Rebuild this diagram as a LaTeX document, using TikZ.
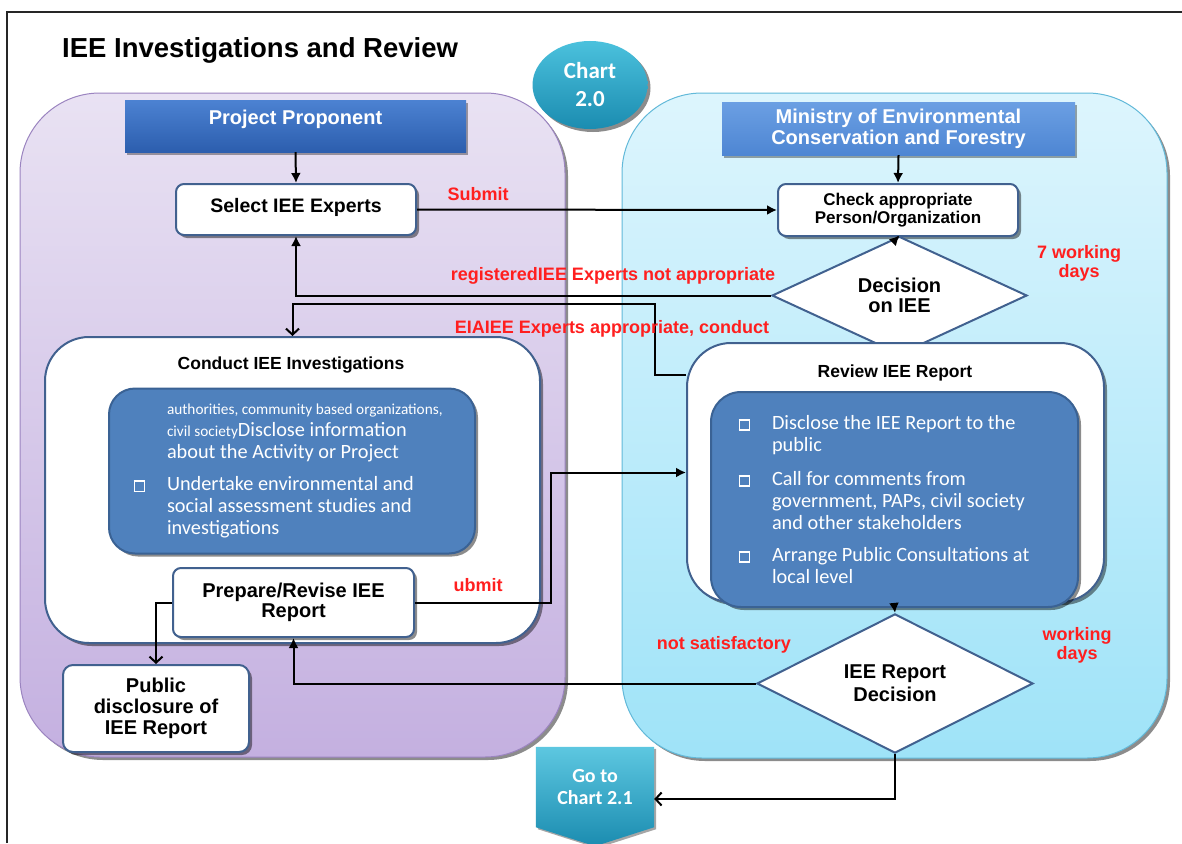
\documentclass[tikz,border=0pt]{standalone}
\usepackage{fontspec}
\setmainfont{Liberation Sans}
\newfontfamily\calib{Carlito}
\usetikzlibrary{shapes.geometric,arrows.meta,shadows}
\definecolor{ptop}{HTML}{E9E2F3}
\definecolor{pbot}{HTML}{C4B0E0}
\definecolor{pbdr}{HTML}{9B84C0}
\definecolor{btop}{HTML}{DDF5FD}
\definecolor{bbot}{HTML}{9FE3F8}
\definecolor{bbdr}{HTML}{62B9D9}
\definecolor{hdA}{HTML}{4C82D2}
\definecolor{hdB}{HTML}{2C5EAE}
\definecolor{mdA}{HTML}{6B9FE3}
\definecolor{mdB}{HTML}{4E86D3}
\definecolor{bdr}{HTML}{41618F}
\definecolor{inblue}{HTML}{4F81BD}
\definecolor{inbdr}{HTML}{3A6294}
\definecolor{redc}{HTML}{FF1F1F}
\definecolor{tealA}{HTML}{4BC1DD}
\definecolor{tealB}{HTML}{1B8CB0}
\newcommand\sqbul{\makebox[33pt][l]{\hspace*{-0.5pt}{\color{white}\setlength\fboxsep{0pt}\setlength\fboxrule{1.7pt}\fbox{\rule{0pt}{8.5pt}\rule{8.5pt}{0pt}}}}}
\newcommand\nobul{\makebox[33pt][l]{}}
\frenchspacing
\begin{document}
\begin{tikzpicture}[x=1pt,y=-1pt,
  every node/.style={inner sep=0pt},
  shd/.style={drop shadow={shadow xshift=3pt,shadow yshift=-3pt,opacity=.45,fill=black}},
  panelbox/.style={rectangle, rounded corners=80pt, minimum width=545pt, line width=1pt},
  header/.style={rectangle, text=white, font=\bfseries\fontsize{20}{21}\selectfont, align=center,
     drop shadow={shadow xshift=2pt,shadow yshift=-3pt,opacity=.35,fill=black}},
  wbox/.style={rectangle, rounded corners=8pt, draw=bdr, line width=2pt, fill=white, shd, align=center},
  contbox/.style={rectangle, rounded corners=44pt, draw=bdr, line width=2pt, fill=white, shd},
  inbox/.style={rectangle, rounded corners=26pt, draw=inbdr, line width=2pt, fill=inblue, shd,
     text=white, font=\calib\frenchspacing\fontsize{20.3}{22}\selectfont, align=flush left},
  dia/.style={diamond, draw=bdr, line width=2pt, fill=white, align=center,
     font=\bfseries\fontsize{20}{20}\selectfont},
  lbl/.style={text=redc, font=\bfseries\fontsize{18}{19}\selectfont, align=center},
  ttl/.style={font=\bfseries\fontsize{17.5}{19}\selectfont},
  arr/.style={draw=black, line width=2pt, -{Latex[length=10pt,width=10pt]}},
  oarr/.style={draw=black, line width=2pt, -{Straight Barb[length=6pt,width=13pt]}}
]
\useasboundingbox (0,0) rectangle (1182,843);
\fill[white] (0,0) rectangle (1182,843);
\draw[line width=1.6pt, black!85] (7,843) -- (7,12) -- (1182,12);

% title
\node[anchor=west, font=\bfseries\fontsize{27.5}{30}\selectfont] (title) at (62,50) {IEE Investigations and Review};

% panels
\node[panelbox, minimum height=664pt, draw=pbdr, top color=ptop, bottom color=pbot, shd] (ppanel) at (292.5,425) {};
\node[panelbox, minimum height=665pt, draw=bbdr, top color=btop, bottom color=bbot, shd] (mpanel) at (894.5,425.5) {};

% chart circle
\node[ellipse, minimum width=115pt, minimum height=88pt, top color=tealA, bottom color=tealB, shd,
      text=white, font=\calib\bfseries\fontsize{23}{28}\selectfont, align=center] (chart) at (590,85) {Chart\\2.0};

% headers
\node[header, minimum width=341pt, text height=24pt, text depth=28pt, top color=hdA, bottom color=hdB] (pphead) at (295.5,126) {Project Proponent};
\node[header, minimum width=353pt, minimum height=53pt, top color=mdA, bottom color=mdB] (mhead) at (898.5,128.5) {Ministry of Environmental\\Conservation and Forestry};

% left side boxes
\node[wbox, minimum width=240pt, text height=28pt, text depth=23pt, font=\bfseries\fontsize{19.5}{21}\selectfont] (select) at (296,209.5) {Select IEE Experts};
\node[contbox, minimum width=495pt, minimum height=306pt] (conduct) at (292.5,490) {};
\node[ttl] (conductT) at (291,365) {Conduct IEE Investigations};
\node[inbox, minimum width=366pt, minimum height=165pt, text width=316pt] (inv) at (292,471) {%
\nobul{\fontsize{15.3}{22}\selectfont authorities, community based organizations,}\\
\nobul{\fontsize{15.3}{22}\selectfont civil society}Disclose information\\
\nobul about the Activity or Project\\[10pt]
\sqbul Undertake environmental and\\
\nobul social assessment studies and\\
\nobul investigations};
\node[wbox, minimum width=241pt, minimum height=69pt, font=\bfseries\fontsize{20}{20}\selectfont] (prepare) at (293.5,602.5) {Prepare/Revise IEE\\Report};
\node[wbox, rounded corners=10pt, minimum width=186pt, minimum height=87pt, font=\bfseries\fontsize{20}{21}\selectfont] (public) at (156,708.5) {Public\\disclosure of\\IEE Report};

% right side boxes
\node[wbox, minimum width=240pt, minimum height=52pt, font=\bfseries\fontsize{17}{18}\selectfont] (check) at (898,210) {Check appropriate\\Person/Organization};
\node[dia, minimum width=255pt, minimum height=93pt] (dec1) at (899.5,295.5) {Decision\\on IEE};
\node[contbox, minimum width=417pt, minimum height=259pt] (review) at (895.5,472.5) {};
\node[ttl] (reviewT) at (895,373) {Review IEE Report};
\node[inbox, rounded corners=30pt, minimum width=367pt, minimum height=215pt, text width=311pt] (revlist) at (894.5,499.5) {%
\sqbul Disclose the IEE Report to the\\
\nobul public\\[12pt]
\sqbul Call for comments from\\
\nobul government, PAPs, civil society\\
\nobul and other stakeholders\\[10pt]
\sqbul Arrange Public Consultations at\\
\nobul local level};
\node[dia, minimum width=276pt, minimum height=97pt, font=\bfseries\fontsize{20}{23}\selectfont] (dec2) at (895,683.5) {IEE Report\\Decision};

% go to chart 2.1
\node[rectangle, minimum width=118pt, minimum height=80pt] (goto) at (595,787) {};
\shade[top color=tealA!90!white, bottom color=tealB, drop shadow={shadow xshift=2pt,shadow yshift=-2pt,opacity=.35,fill=black}]
  (goto.north west) -- (goto.north east) -- (goto.south east) -- ([yshift=-19pt]goto.south) -- (goto.south west) -- cycle;
\node[text=white, font=\calib\bfseries\fontsize{20}{22}\selectfont, align=center] (gotoT) at (goto.center) {Go to\\Chart 2.1};

% connectors
\draw[arr] (pphead.south) -- (select.north);
\draw[arr] (mhead.south) -- (check.north);
\draw[arr] (select.east) -- (check.west);
\draw[arr] (check.south) -- (dec1.north);
\draw[arr] (dec1.west) -| (select.south);
\draw[oarr] ([yshift=97.5pt]review.west) -| (655,304) -| (conduct.north);
\draw[arr] (prepare.east) -- ++(136,0) |- (review.west);
\draw[oarr] (prepare.west) -| (public.north);
\draw[arr] (revlist.south) -- (dec2.north);
\draw[arr] (dec2.west) -| (prepare.south);
\draw[oarr] (dec2.south) |- ([yshift=-12pt]goto.east);

% labels
\node[lbl] (l1) at (478,194) {Submit};
\node[lbl] (l2) at (613,276) {registeredIEE Experts not appropriate};
\node[lbl] (l3) at (612,329) {EIAIEE Experts appropriate, conduct};
\node[lbl] (l4) at (1079,263.5) {7 working\\days};
\node[lbl] (l5) at (478,585) {ubmit};
\node[lbl] (l6) at (724,645) {not satisfactory};
\node[lbl] (l7) at (1077,645.5) {working\\days};
\end{tikzpicture}
\end{document}
